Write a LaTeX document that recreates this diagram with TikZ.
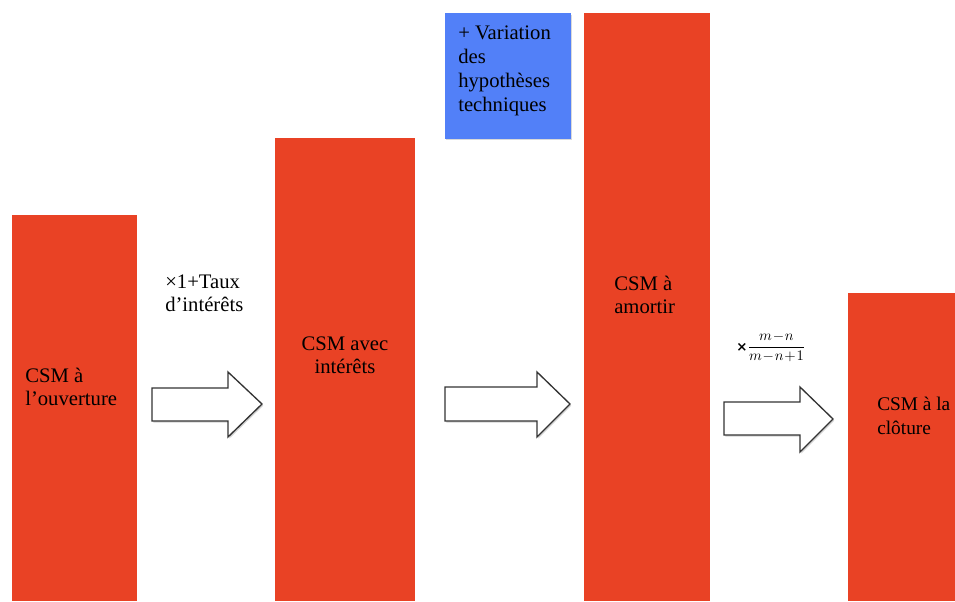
\documentclass[tikz,border=0pt]{standalone}
\usepackage{amsmath}
\usepackage{fontspec}
\setmainfont{Liberation Serif}
\newfontfamily\signfont{DejaVu Sans}
\usetikzlibrary{shadows}
\definecolor{csmred}{RGB}{233,66,37}
\definecolor{hypblue}{RGB}{82,128,248}
\tikzset{
  bar/.style={fill=csmred},
  label/.style={inner sep=0pt, font=\fontsize{15.5}{17.2}\selectfont, text=black},
  fatarrow/.style={draw=black!80, line width=1pt, fill=white, line join=miter,
    drop shadow={opacity=0.35, shadow xshift=1pt, shadow yshift=-1.2pt}},
}
\begin{document}
\begin{tikzpicture}[x=0.75pt, y=-0.75pt]
\useasboundingbox (0,0) rectangle (955,601);

% the four CSM columns
\path[bar] (12,215) rectangle (137,601);
\path[bar] (275,138) rectangle (415,601);
\path[bar] (584,13) rectangle (710,601);
\path[bar] (848,293) rectangle (955,601);

% assumption-change box
\node[draw=none, fill=hypblue, minimum width=94.5pt, minimum height=94pt,
      anchor=north west, drop shadow={opacity=0.3, shadow xshift=0.8pt, shadow yshift=-1.2pt}]
  (hyp) at (445,13) {};

% block arrows between the columns
\path[fatarrow] (152,388) -- (228,388) -- (228,372) -- (262,404) -- (228,437) -- (228,421) -- (152,421) -- cycle;
\path[fatarrow] (445,387) -- (537,387) -- (537,372) -- (570,404) -- (537,437) -- (537,421) -- (445,421) -- cycle;
\path[fatarrow] (724,402) -- (800,402) -- (800,387) -- (833,419) -- (800,452) -- (800,435) -- (724,435) -- cycle;

% texts
\node[label, anchor=north west, align=left] (open) at (25,368) {CSM à\\l’ouverture};
\node[label, anchor=north west, align=left] (rate) at (165,275) {×1+Taux\\d’intérêts};
\node[label, anchor=north, align=center] (interest) at (345,337) {CSM avec\\intérêts};
\node[label, anchor=north west, align=left, font=\fontsize{15.5}{18}\selectfont] (hyptext) at (458,26) {+ Variation\\des\\hypothèses\\techniques};
\node[label, anchor=north west, align=left] (amort) at (614,276) {CSM à\\amortir};
\node[label, anchor=north west, align=left, font=\fontsize{14.5}{18}\selectfont] (close) at (877,397) {CSM à la\\clôture};
\node[inner sep=0pt, anchor=west, font=\fontsize{10.5}{12}\selectfont] (ratio) at (736,347)
  {\raisebox{-0.5pt}{\signfont\bfseries\fontsize{10}{12}\selectfont ×}$\displaystyle\frac{m\mkern1mu{-}\mkern1mu n}{m\mkern1mu{-}\mkern1mu n\mkern1mu{+}\mkern1mu1}$};
\end{tikzpicture}
\end{document}
